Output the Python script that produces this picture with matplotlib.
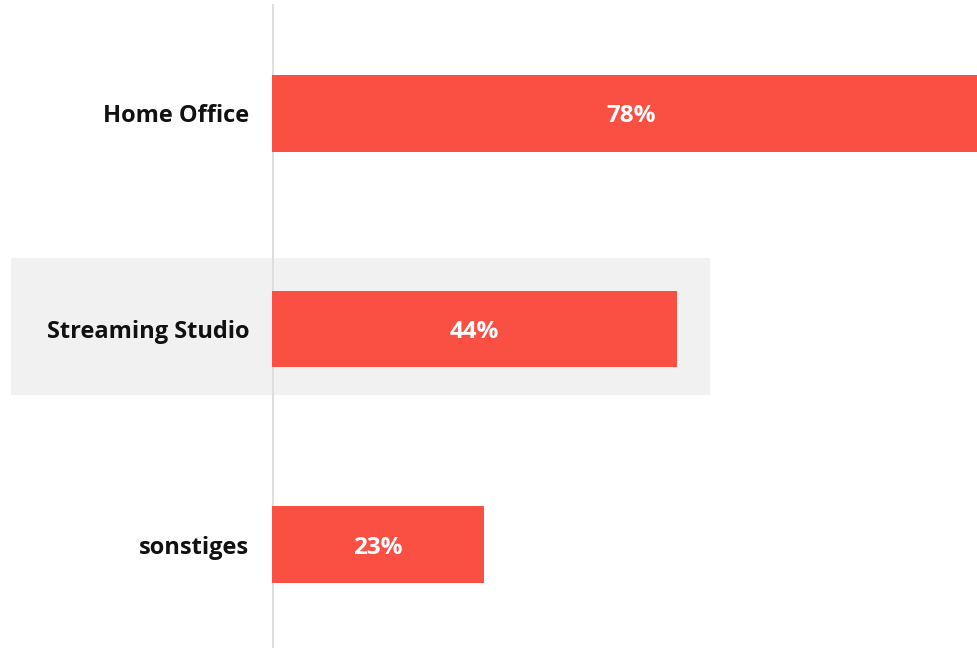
import matplotlib
matplotlib.use("Agg")
import matplotlib.pyplot as plt
from matplotlib.patches import Rectangle

categories = ["Home Office", "Streaming Studio", "sonstiges"]
values = [78, 44, 23]
value_labels = ["78%", "44%", "23%"]
highlight = "Streaming Studio"

W, H = 977, 648
fig = plt.figure(figsize=(W / 100, H / 100), dpi=100)
fig.patch.set_facecolor("white")
ax = fig.add_axes([272 / W, 0, 1 - 272 / W, 1])
ax.patch.set_visible(False)

ypos = list(range(len(categories)))
bar_color = "#FA4F43"
ax.barh(ypos, values, height=0.357, color=bar_color, zorder=2)
ax.set_xlim(0, 76.5)
ax.set_ylim(2 + (H - 544.5) / 215.5, -113.5 / 215.5)

for y, v, lab in zip(ypos, values, value_labels):
    ax.text(v / 2, y, lab, ha="center", va="center_baseline", color="white",
            fontsize=17.5, fontweight="bold", family="Open Sans", zorder=3)

ax.set_yticks(ypos)
ax.set_yticklabels(categories, fontsize=17, fontweight="bold", family="Open Sans", color="#111111")
ax.tick_params(axis="y", length=0, pad=16.5)
ax.set_xticks([])
for s in ax.spines.values():
    s.set_visible(False)
ax.axvline(0, ymin=0, ymax=1 - 5 / H, color="#dddddd", lw=2, zorder=1)

# highlight band behind highlighted category
hi = categories.index(highlight)
fig.add_artist(Rectangle((11 / W, 1 - 395 / H), (710 - 11) / W, (395 - 258) / H,
                         transform=fig.transFigure, facecolor="#F1F1F1",
                         edgecolor="none", zorder=-1))

fig.savefig("out.png", dpi=100)
